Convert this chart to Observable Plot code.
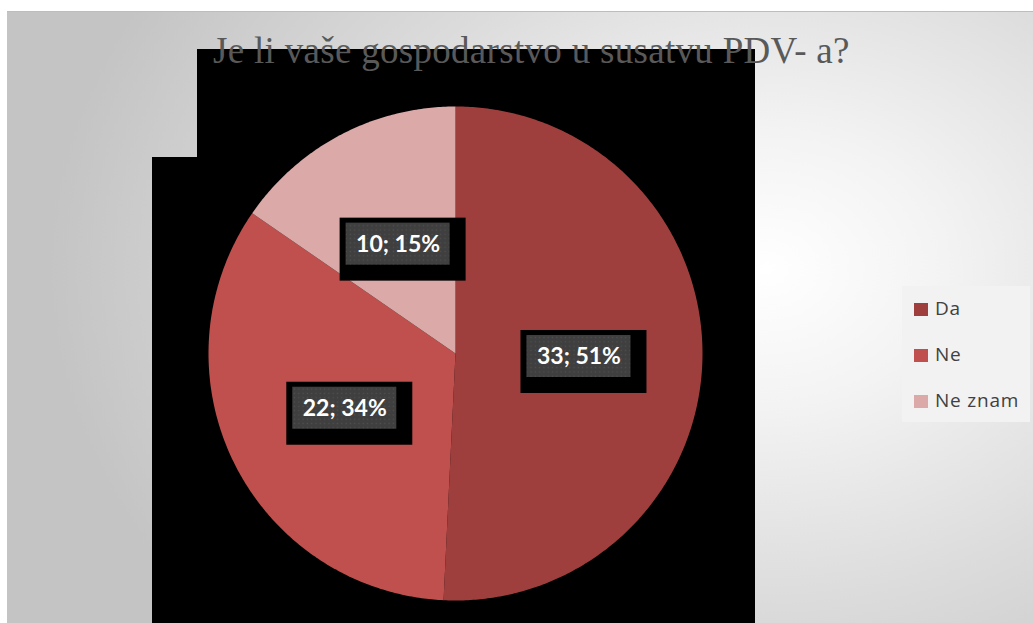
<!DOCTYPE html>
<html>
<head>
<meta charset="utf-8">
<script src="https://cdn.jsdelivr.net/npm/d3@7"></script>
<script src="https://cdn.jsdelivr.net/npm/@observablehq/plot@0.6"></script>
<style>
  html, body { margin: 0; padding: 0; background: #ffffff; }
  #wrap { position: relative; width: 1033px; height: 623px; overflow: hidden; }
  #bg { position: absolute; left: 7px; top: 11px; width: 1026px; height: 612px;
        border-top: 1px solid #bdbdbd; box-sizing: border-box;
        background: radial-gradient(ellipse 70% 90% at 74% 42%, #ffffff 0%, #f3f3f3 25%, #dcdcdc 60%, #c4c4c4 100%); }
  .blk { position: absolute; background: #000; }
  #title { position: absolute; left: 213px; top: 29px; line-height: 44px;
           font-family: "Liberation Serif", "Times New Roman", serif; font-size: 37px; letter-spacing: 0.3px; color: #595959; white-space: nowrap; }
  #chart { position: absolute; left: 0; top: 0; }
  #legend { position: absolute; left: 902px; top: 286px; width: 128px; height: 136px; background: #f2f2f2; }
  .li { position: absolute; left: 12px; height: 22px; font-family: "Open Sans", sans-serif; font-size: 19px; letter-spacing: 0.8px; color: #404040; line-height: 22px; white-space: nowrap; }
  .sw { display: inline-block; width: 14px; height: 13px; margin-right: 7px; vertical-align: -1px; }
</style>
</head>
<body>
<div id="wrap">
  <div id="bg"></div>
  <div class="blk" style="left:197px; top:49px; width:558px; height:574px;"></div>
  <div class="blk" style="left:152px; top:157px; width:603px; height:466px;"></div>
  <div id="chart"></div>
  <div id="title"></div>
  <div id="legend"></div>
</div>
<script>
const titleText = "Je li vaše gospodarstvo u susatvu PDV- a?";
const categories = ["Da", "Ne", "Ne znam"];
const counts = [33, 22, 10];
const percents = [51, 34, 15];
const colors = ["#9e3f3e", "#c0504d", "#dba9a8"];

document.getElementById("title").textContent = titleText;

const rows = categories.map((c, i) => ({cat: c, n: counts[i], pct: percents[i]}));
const arcs = d3.pie().sort(null).value(d => d.n)(rows);

// polygon outline of each slice (angle measured clockwise from 12 o'clock)
const slicePts = [];
for (const a of arcs) {
  slicePts.push({cat: a.data.cat, x: 0, y: 0});
  const steps = Math.max(2, Math.ceil((a.endAngle - a.startAngle) / 0.01));
  for (let k = 0; k <= steps; k++) {
    const t = a.startAngle + (a.endAngle - a.startAngle) * k / steps;
    slicePts.push({cat: a.data.cat, x: Math.sin(t), y: Math.cos(t)});
  }
}
const labels = arcs.map(a => {
  const m = (a.startAngle + a.endAngle) / 2;
  return {cat: a.data.cat, x: 0.5 * Math.sin(m), y: 0.5 * Math.cos(m), text: `${a.data.n}; ${a.data.pct}%`};
});

const chart = Plot.plot({
  width: 1033, height: 623,
  marginLeft: 208, marginRight: 331, marginTop: 106, marginBottom: 23,
  x: {domain: [-1, 1], axis: null},
  y: {domain: [-1, 1], axis: null},
  color: {domain: categories, range: colors},
  style: {background: "transparent", fontFamily: "Lato, sans-serif", overflow: "visible"},
  marks: [
    Plot.line(slicePts, {x: "x", y: "y", z: "cat", fill: "cat", stroke: "none", curve: "linear-closed"}),
    Plot.rect(labels, {x1: "x", x2: "x", y1: "y", y2: "y", insetLeft: -58, insetRight: -68, insetTop: -26, insetBottom: -37, fill: "#000000"}),
    Plot.rect(labels, {x1: "x", x2: "x", y1: "y", y2: "y", insetLeft: -52, insetRight: -52, insetTop: -21, insetBottom: -21, fill: "#404040"}),
    Plot.text(labels, {x: "x", y: "y", text: "text", fill: "white", fontSize: 23, fontWeight: "bold", dy: 0})
  ]
});

const svg = d3.select(chart);
svg.insert("defs", ":first-child").html(
  '<pattern id="dots" width="4.3" height="4.3" patternUnits="userSpaceOnUse">' +
  '<rect width="4.3" height="4.3" fill="#3f3f3f"></rect>' +
  '<rect x="1.5" y="1.5" width="1.2" height="1.2" fill="#505050"></rect></pattern>');
svg.selectAll('g[fill="#404040"]').attr("fill", "url(#dots)");
document.getElementById("chart").appendChild(chart);

// legend
const lg = document.getElementById("legend");
const rowTops = [11, 57, 103];
categories.forEach((c, i) => {
  const d = document.createElement("div");
  d.className = "li";
  d.style.top = rowTops[i] + "px";
  d.innerHTML = `<span class="sw" style="background:${colors[i]}"></span>${c}`;
  lg.appendChild(d);
});
</script>
</body>
</html>
